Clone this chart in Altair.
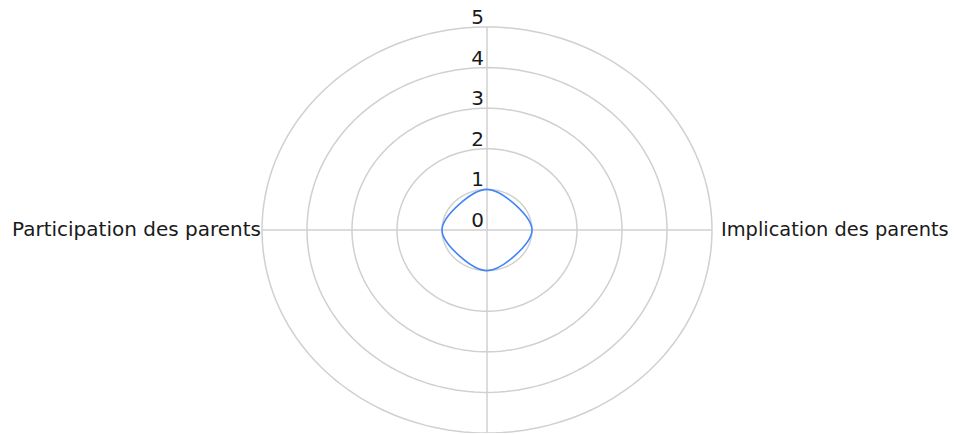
import altair as alt
import numpy as np
import pandas as pd

# ---- data ----
categories = ["", "Implication des parents", "", "Participation des parents"]
values = [1, 1, 1, 1]
ticks = [0, 1, 2, 3, 4, 5]
rmax = 5

n = len(categories)
angles = [i * 2 * np.pi / n for i in range(n)]  # clockwise from top

# grid rings (ellipses built from the tick values)
ring_rows = []
for r in ticks[1:]:
    for k in range(181):
        a = 2 * np.pi * k / 180
        ring_rows.append({"r": r, "k": k, "x": r * np.sin(a), "y": r * np.cos(a)})
rings = pd.DataFrame(ring_rows)

spokes = pd.DataFrame({
    "x": [0.0] * n, "y": [0.0] * n,
    "x2": [rmax * np.sin(a) for a in angles],
    "y2": [rmax * np.cos(a) for a in angles],
})

tick_df = pd.DataFrame({"x": [0] * len(ticks), "y": ticks, "label": [str(t) for t in ticks]})

label_df = pd.DataFrame({
    "x": [rmax * np.sin(a) for a in angles],
    "y": [rmax * np.cos(a) for a in angles],
    "label": categories,
    "side": ["c" if abs(np.sin(a)) < 1e-6 else ("r" if np.sin(a) > 0 else "l") for a in angles],
})
label_df = label_df[label_df["label"] != ""]

series = pd.DataFrame({
    "order": list(range(n)),
    "x": [v * np.sin(a) for v, a in zip(values, angles)],
    "y": [v * np.cos(a) for v, a in zip(values, angles)],
})

FONT = "DejaVu Sans"
TXT = "#1a1a1a"
xs = alt.Scale(domain=[-rmax, rmax], nice=False, zero=False)
ys = alt.Scale(domain=[-rmax, rmax], nice=False, zero=False)
X = lambda f="x": alt.X(f"{f}:Q", scale=xs, axis=None)
Y = lambda f="y": alt.Y(f"{f}:Q", scale=ys, axis=None)

grid = alt.Chart(rings).mark_line(color="#d0d0d0", strokeWidth=1.5).encode(
    x=X(), y=Y(), detail="r:N", order="k:Q")

spoke = alt.Chart(spokes).mark_rule(color="#d0d0d0", strokeWidth=1.5).encode(
    x=X(), y=Y(), x2="x2:Q", y2="y2:Q")

tick_text = alt.Chart(tick_df).mark_text(
    align="right", baseline="alphabetic", dx=-3, dy=-3, font=FONT, fontSize=20, color=TXT
).encode(x=X(), y=Y(), text="label:N")

left_lab = alt.Chart(label_df[label_df["side"] == "l"]).mark_text(
    align="right", baseline="middle", dx=-1, font=FONT, fontSize=20, color=TXT
).encode(x=X(), y=Y(), text="label:N")

right_lab = alt.Chart(label_df[label_df["side"] == "r"]).mark_text(
    align="left", baseline="middle", dx=9, font=FONT, fontSize=19.4, color=TXT
).encode(x=X(), y=Y(), text="label:N")

line = alt.Chart(series).mark_line(
    color="#4285F4", strokeWidth=1.6, interpolate="cardinal-closed"
).encode(x=X(), y=Y(), order="order:Q")

chart = alt.layer(grid, spoke, line, tick_text, left_lab, right_lab).properties(
    width=450, height=406,
    autosize=alt.AutoSizeParams(type="none"),
    padding={"left": 254, "top": 19, "right": 243, "bottom": 0},
).configure_view(stroke=None)

chart.save("out.html", embed_options={"renderer": "svg", "actions": False})
